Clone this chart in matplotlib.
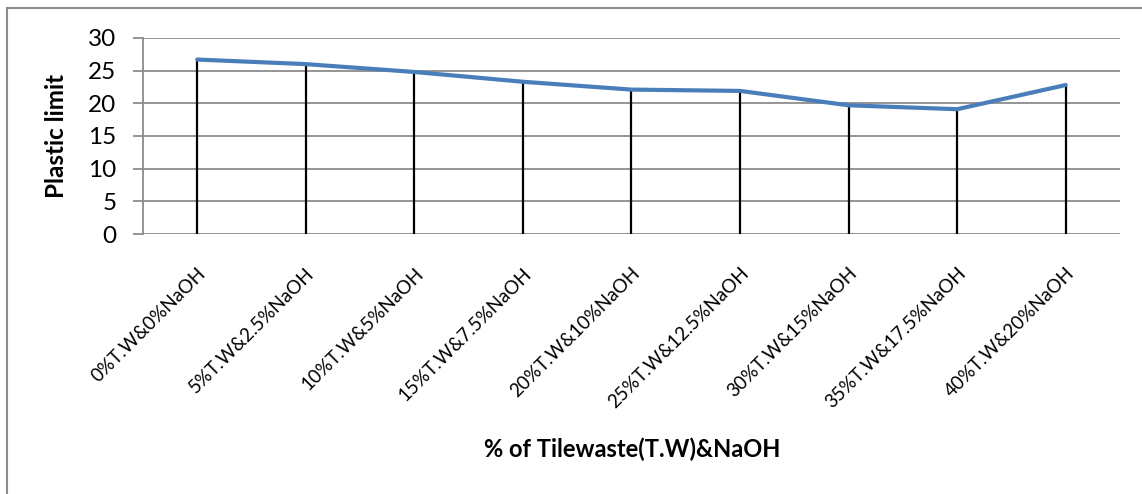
import matplotlib
matplotlib.use("Agg")
from matplotlib import pyplot as plt
from matplotlib.patches import Rectangle
import numpy as np

# data
categories = ['0%T.W&0%NaOH', '5%T.W&2.5%NaOH', '10%T.W&5%NaOH', '15%T.W&7.5%NaOH',
              '20%T.W&10%NaOH', '25%T.W&12.5%NaOH', '30%T.W&15%NaOH',
              '35%T.W&17.5%NaOH', '40%T.W&20%NaOH']
plastic_limit = [26.7, 26.0, 24.8, 23.3, 22.1, 21.9, 19.7, 19.1, 22.8]
y_ticks = [0, 5, 10, 15, 20, 25, 30]

plt.rcParams['font.family'] = ['Lato', 'DejaVu Sans']

fig = plt.figure(figsize=(11.42, 4.94), dpi=100)
ax = fig.add_axes([0.1252, 0.5263, 0.8555, 0.3968])

# outer chart border
fig.patches.append(Rectangle((0.0061, -0.05), 1.1, 1.034, transform=fig.transFigure,
                             fill=False, edgecolor='#8c8c8c', linewidth=1.5))

x = np.arange(len(categories))
ax.vlines(x, 0, plastic_limit, colors='black', linewidth=1.6, zorder=2)
ax.plot(x, plastic_limit, color='#4a7ebb', linewidth=3, solid_capstyle='round', zorder=3)

ax.set_xlim(-0.5, len(categories) - 0.5)
ax.set_ylim(0, 30)
ax.set_yticks(y_ticks)
ax.yaxis.grid(True, color='#8c8c8c', linewidth=1.3)
ax.set_axisbelow(True)

for s in ['top', 'right', 'bottom']:
    ax.spines[s].set_visible(False)
ax.spines['left'].set_color('#8c8c8c')
ax.spines['left'].set_linewidth(1.3)

ax.tick_params(axis='y', length=7, width=1.3, color='#8c8c8c', labelsize=17.5, pad=12)
ax.set_xticks(x)
ax.set_xticklabels(categories, rotation=45, ha='right', rotation_mode='anchor', fontsize=13.5)
ax.tick_params(axis='x', length=0, pad=22)

ax.set_ylabel('Plastic limit', fontsize=17.5, fontweight='bold', labelpad=15)
fig.text(0.5534, 1 - 449 / 494, '% of Tilewaste(T.W)&NaOH', fontsize=17, fontweight='bold',
         ha='center', va='center')

fig.savefig('out.png', dpi=100)
